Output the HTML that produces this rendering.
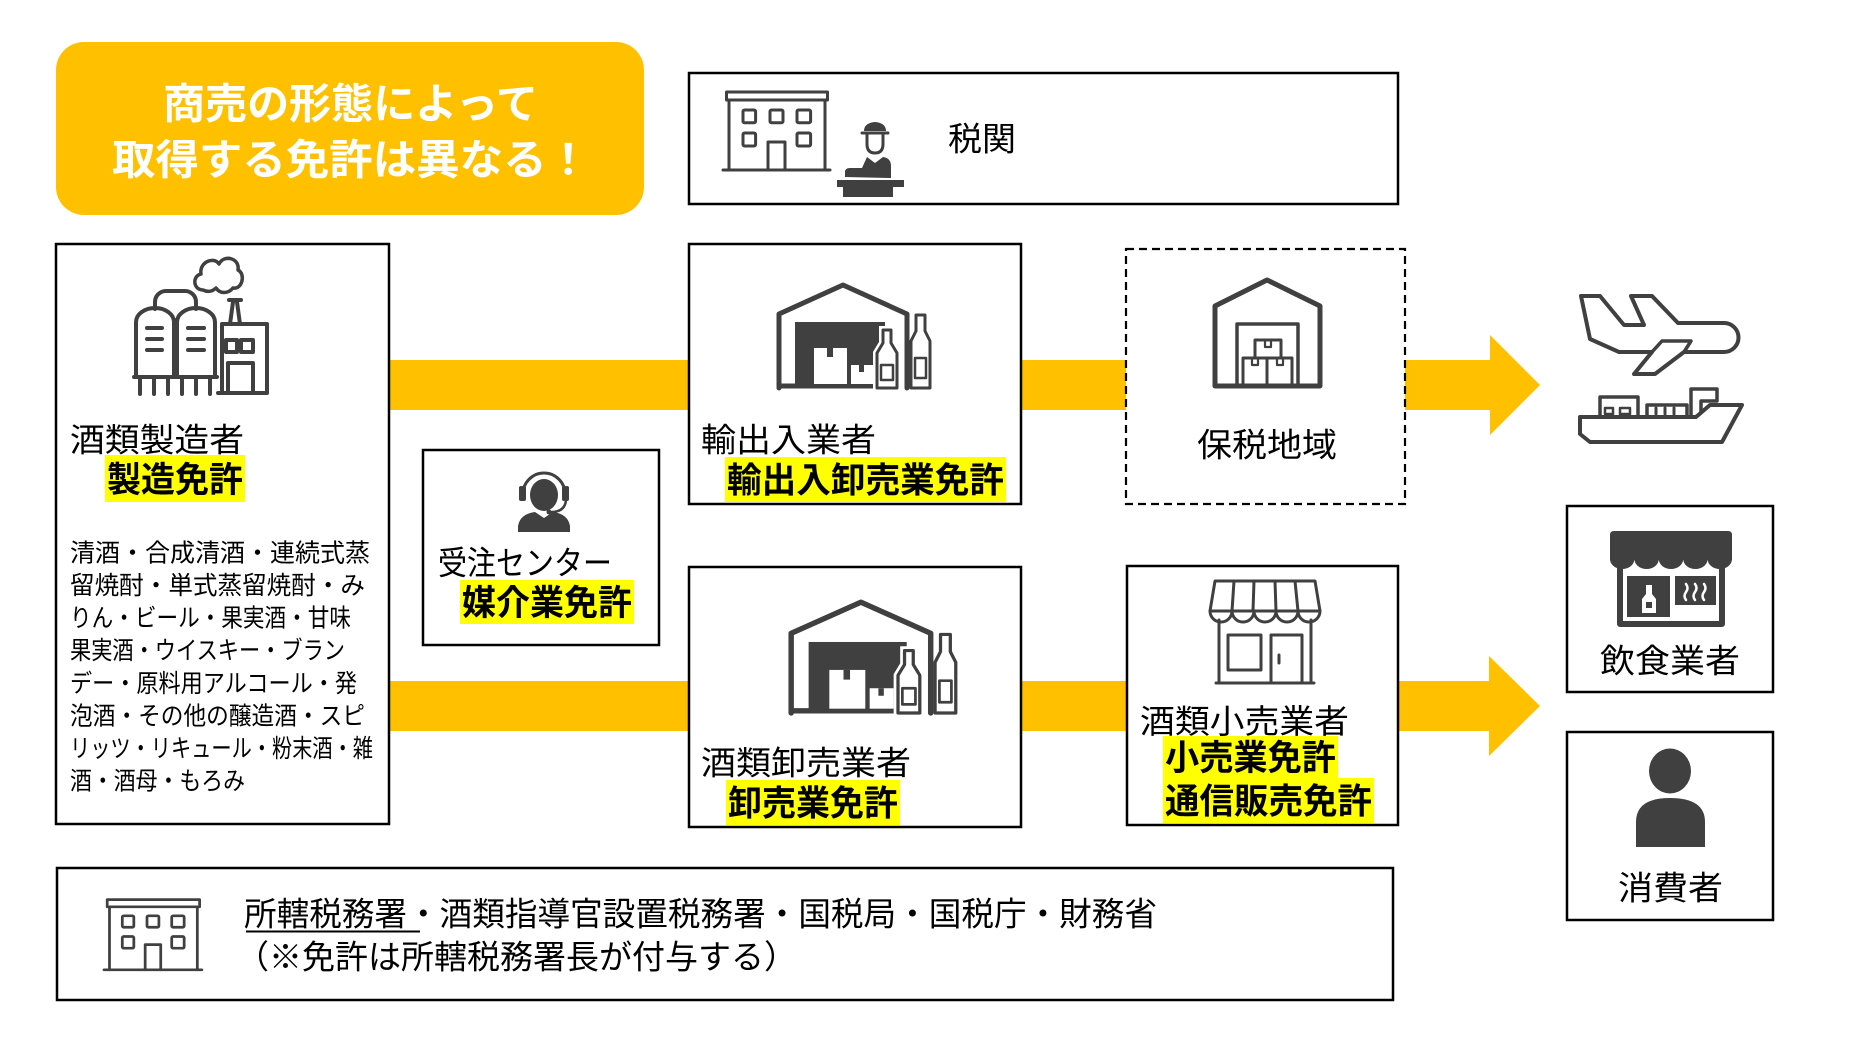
<!DOCTYPE html>
<html><head><meta charset="utf-8">
<style>
html,body{margin:0;padding:0;background:#fff;}
svg{display:block;}
text{font-family:"Liberation Sans","Noto Sans CJK JP",sans-serif;}
.lbl{font-size:33px;fill:#000;}
.lic{font-size:35px;font-weight:bold;fill:#000;}
.lst{font-size:25px;fill:#000;}
.ic{fill:none;stroke:#404040;stroke-linejoin:round;stroke-linecap:round;}
.fd{fill:#404040;}
</style></head><body>
<svg width="1860" height="1038" viewBox="0 0 1860 1038" xmlns="http://www.w3.org/2000/svg">
<defs>
  <g id="bld">
    <rect x="3.5" y="1" width="101" height="8" class="ic" stroke-width="3"/>
    <path d="M6,9 V79 M102,9 V79 M0,79 H107" class="ic" stroke-width="3"/>
    <rect x="20" y="19" width="12.6" height="12.7" rx="1.5" class="ic" stroke-width="3"/>
    <rect x="47" y="19" width="13" height="12.7" rx="1.5" class="ic" stroke-width="3"/>
    <rect x="74" y="19" width="13.6" height="12.7" rx="1.5" class="ic" stroke-width="3"/>
    <rect x="20" y="42" width="12.6" height="13" rx="1.5" class="ic" stroke-width="3"/>
    <rect x="74" y="42" width="13.6" height="13" rx="1.5" class="ic" stroke-width="3"/>
    <path d="M45,79 V51 H62 V79" class="ic" stroke-width="3"/>
  </g>
  <g id="wh">
    <path d="M2,105 V31 L66,2 L130,31 V105" class="ic" stroke-width="5"/>
    <rect x="18" y="39" width="90" height="66" class="fd"/>
    <path d="M2,103 H96" class="ic" stroke-width="5"/>
    <rect x="37" y="65" width="33" height="36" fill="#fff"/>
    <rect x="74" y="82" width="22" height="19" fill="#fff"/>
    <rect x="50" y="65" width="6" height="9" class="fd"/>
    <rect x="82" y="82" width="5" height="7" class="fd"/>
    <path d="M106,47 H114 V60 L120,70 V105 H100 V70 L106,60 Z" fill="#fff" stroke="#fff" stroke-width="8"/>
    <path d="M106,47 H114 V60 L120,70 V105 H100 V70 L106,60 Z" fill="#fff" stroke="#404040" stroke-width="3" stroke-linejoin="round"/>
    <rect x="104" y="82" width="12" height="15" class="ic" stroke-width="2.5"/>
    <path d="M139,32 H148 V48 L153,58 V105 H134 V58 L139,48 Z" fill="#fff" stroke="#404040" stroke-width="3" stroke-linejoin="round"/>
    <rect x="138" y="75" width="11" height="20" class="ic" stroke-width="2.5"/>
  </g>
</defs>

<!-- yellow arrows -->
<g fill="#FFC000">
  <rect x="388" y="360" width="302" height="50"/>
  <rect x="1020" y="360" width="107" height="50"/>
  <polygon points="1404,360 1490,360 1490,335 1540,385 1490,435 1490,410 1404,410"/>
  <rect x="388" y="681" width="302" height="50"/>
  <rect x="1020" y="681" width="108" height="50"/>
  <polygon points="1396,681 1489,681 1489,656 1540,706 1489,756 1489,731 1396,731"/>
</g>

<!-- title -->
<rect x="56" y="42" width="588" height="173" rx="28" fill="#FFC000"/>
<text x="163" y="118.5" font-size="42" font-weight="bold" fill="#fff" textLength="375" lengthAdjust="spacingAndGlyphs">商売の形態によって</text>
<text x="112" y="174.5" font-size="42" font-weight="bold" fill="#fff" textLength="478" lengthAdjust="spacingAndGlyphs">取得する免許は異なる！</text>

<!-- boxes -->
<g fill="#fff" stroke="#000" stroke-width="2.5">
  <rect x="689" y="73" width="709" height="131"/>
  <rect x="56" y="244" width="333" height="580"/>
  <rect x="689" y="244" width="332" height="260"/>
  <rect x="423" y="450" width="236" height="195"/>
  <rect x="689" y="567" width="332" height="260"/>
  <rect x="1127" y="566" width="271" height="259"/>
  <rect x="1567" y="506" width="206" height="186"/>
  <rect x="1567" y="732" width="206" height="188"/>
  <rect x="57" y="868" width="1336" height="132"/>
</g>
<rect x="1126" y="249" width="279" height="255" fill="#fff" stroke="#000" stroke-width="2.2" stroke-dasharray="8,5"/>

<!-- customs -->
<use href="#bld" transform="translate(723,91)"/>
<path d="M864,131 Q864,123 875,122 Q886,123 886,131 Z" class="fd"/>
<path d="M862,133 H888" class="ic" stroke-width="3"/>
<path d="M867,135 V144 Q867,153 875,153 Q883,153 883,144 V135" class="ic" stroke-width="3"/>
<path d="M845,177 V172 Q845,168 850,168 H862 L867,157 L875,163 L883,157 Q891,158 891,166 V178 Z" class="fd"/>
<rect x="837" y="180" width="67" height="7" class="fd"/>
<rect x="843" y="187" width="50" height="10" class="fd"/>
<text x="948" y="150.5" class="lbl" textLength="68" lengthAdjust="spacingAndGlyphs">税関</text>

<!-- factory -->
<g class="ic" stroke-width="4">
  <path d="M136,377 V322 A19,14 0 0 1 174,322 V377"/>
  <path d="M177,377 V322 A19,14 0 0 1 215,322 V377"/>
  <path d="M134,377 H217"/>
  <path d="M140,377 V394 M154,377 V394 M168,377 V394 M182,377 V394 M196,377 V394 M210,377 V394"/>
  <path d="M155,309 V302 A11,11 0 0 1 166,291 H185 A11,11 0 0 1 196,302 V309"/>
  <path d="M147,328 H162 M147,339 H162 M147,350 H162 M188,328 H204 M188,339 H204 M188,350 H204"/>
  <path d="M222,393 V324 H267 V393 M218,393 H267"/>
  <path d="M228,393 V363 H253 V393"/>
  <rect x="226" y="340" width="11" height="12"/>
  <rect x="241" y="340" width="12" height="12"/>
  <path d="M230,324 L233,302 M240,324 L237,302 M229,300 H241"/>
  <path d="M203,290 C193,290 192,276 201,274 C199,262 214,256 219,264 C224,254 240,258 238,270 C246,274 242,290 233,288 C228,294 220,294 216,288 C212,292 207,292 203,290 Z" stroke-width="3.5"/>
</g>
<text x="70" y="451.5" class="lbl" textLength="174" lengthAdjust="spacingAndGlyphs">酒類製造者</text>
<rect x="105" y="455" width="140" height="47" fill="#FFFF00"/>
<text x="107" y="492" class="lic" textLength="136" lengthAdjust="spacingAndGlyphs">製造免許</text>
<text x="70" y="561.5" class="lst" textLength="300" lengthAdjust="spacingAndGlyphs">清酒・合成清酒・連続式蒸</text>
<text x="70" y="594" class="lst" textLength="295" lengthAdjust="spacingAndGlyphs">留焼酎・単式蒸留焼酎・み</text>
<text x="70" y="626.6" class="lst" textLength="281" lengthAdjust="spacingAndGlyphs">りん・ビール・果実酒・甘味</text>
<text x="70" y="659" class="lst" textLength="275" lengthAdjust="spacingAndGlyphs">果実酒・ウイスキー・ブラン</text>
<text x="70" y="691.8" class="lst" textLength="287" lengthAdjust="spacingAndGlyphs">デー・原料用アルコール・発</text>
<text x="70" y="724.4" class="lst" textLength="295" lengthAdjust="spacingAndGlyphs">泡酒・その他の醸造酒・スピ</text>
<text x="70" y="757" class="lst" textLength="303" lengthAdjust="spacingAndGlyphs">リッツ・リキュール・粉末酒・雑</text>
<text x="70" y="789.5" class="lst" textLength="175" lengthAdjust="spacingAndGlyphs">酒・酒母・もろみ</text>

<!-- export -->
<use href="#wh" transform="translate(777,283)"/>
<text x="701" y="451.5" class="lbl" textLength="175" lengthAdjust="spacingAndGlyphs">輸出入業者</text>
<rect x="725" y="457" width="281" height="45" fill="#FFFF00"/>
<text x="727" y="492.5" class="lic" textLength="277" lengthAdjust="spacingAndGlyphs">輸出入卸売業免許</text>

<!-- bonded area -->
<path d="M1215,386 V306 L1267,280 L1320,306 V386 Z" class="ic" stroke-width="5"/>
<path d="M1237,386 V324 H1298 V386" class="ic" stroke-width="3.5"/>
<g class="ic" stroke-width="3">
  <rect x="1255" y="340" width="26" height="18"/>
  <rect x="1243" y="358" width="24" height="27"/>
  <rect x="1267" y="358" width="25" height="27"/>
  <path d="M1265,340 V347 H1271 V340 M1252,358 V365 H1258 V358 M1277,358 V365 H1283 V358" stroke-width="2.2"/>
</g>
<text x="1197" y="456.5" class="lbl" textLength="140" lengthAdjust="spacingAndGlyphs">保税地域</text>

<!-- plane / ship -->
<path d="M1581,296 H1600 L1624,325 H1644 L1631,296 H1652 L1678,323 H1724 A14.5,14.5 0 0 1 1724,352 H1684 L1655,374 H1634 L1652,352 H1619 L1590,339 Z" class="ic" stroke-width="4"/>
<path d="M1652,352 L1662,341 H1691 L1684,352" class="ic" stroke-width="3.5"/>
<path d="M1580,417 H1696 L1710,405 H1742 L1722,442 H1590 L1580,434 Z" class="ic" stroke-width="4"/>
<path d="M1691,416 V389 H1717 V401 H1701 V412" class="ic" stroke-width="3.5"/>
<rect x="1600" y="397" width="38" height="20" class="ic" stroke-width="3.5"/>
<rect x="1605" y="408" width="8" height="6" class="ic" stroke-width="2.5"/>
<rect x="1620" y="408" width="10" height="6" class="ic" stroke-width="2.5"/>
<rect x="1647" y="405" width="40" height="12" class="ic" stroke-width="3.5"/>
<path d="M1656,408 V414 M1665,408 V414 M1674,408 V414" class="ic" stroke-width="3"/>

<!-- order center -->
<path d="M523,494 A21,21 0 0 1 565,494" class="ic" stroke-width="3"/>
<ellipse cx="544" cy="495" rx="14" ry="16" class="fd"/>
<rect x="519" y="486" width="7" height="15" rx="2" class="fd"/>
<rect x="562" y="486" width="7" height="15" rx="2" class="fd"/>
<path d="M566,500 Q565,512 551,512" class="ic" stroke-width="2.5"/>
<circle cx="549" cy="512" r="2.5" class="fd"/>
<path d="M518,532 V526 Q520,514 535,512 L544,518 L553,512 Q568,514 570,526 V532 Z" class="fd"/>
<text x="438" y="574.5" class="lbl" textLength="174" lengthAdjust="spacingAndGlyphs">受注センター</text>
<rect x="460" y="580" width="174" height="44" fill="#FFFF00"/>
<text x="462" y="615" class="lic" textLength="170" lengthAdjust="spacingAndGlyphs">媒介業免許</text>

<!-- wholesale -->
<use href="#wh" transform="translate(789,600) scale(1.09,1.076)"/>
<text x="701" y="774.5" class="lbl" textLength="210" lengthAdjust="spacingAndGlyphs">酒類卸売業者</text>
<rect x="726" y="780" width="174" height="45" fill="#FFFF00"/>
<text x="728" y="815.5" class="lic" textLength="170" lengthAdjust="spacingAndGlyphs">卸売業免許</text>

<!-- retail shop -->
<g class="ic" stroke-width="3">
  <path d="M1215,581 H1315 L1320,611 H1210 Z"/>
  <path d="M1234,581 L1232,611 M1254,581 L1253,611 M1275,581 L1276,611 M1295,581 L1298,611"/>
  <path d="M1210,611 a11,11 0 0 0 22,0 a11,11 0 0 0 22,0 a11,11 0 0 0 22,0 a11,11 0 0 0 22,0 a11,11 0 0 0 22,0"/>
  <path d="M1219,620 V683 M1311,620 V683 M1216,683 H1314"/>
  <rect x="1228" y="635" width="33" height="35"/>
  <path d="M1271,683 V635 H1302 V683 M1279,655 V663"/>
</g>
<text x="1140" y="733" class="lbl" textLength="209" lengthAdjust="spacingAndGlyphs">酒類小売業者</text>
<rect x="1163" y="736" width="175" height="43" fill="#FFFF00"/>
<rect x="1163" y="778" width="211" height="45" fill="#FFFF00"/>
<text x="1165" y="770" class="lic" textLength="171" lengthAdjust="spacingAndGlyphs">小売業免許</text>
<text x="1165" y="813.5" class="lic" textLength="207" lengthAdjust="spacingAndGlyphs">通信販売免許</text>

<!-- restaurant -->
<path d="M1614,531 H1728 Q1732,531 1732,535 V560 H1610 V535 Q1610,531 1614,531 Z" class="fd"/>
<path d="M1610,559 a12.2,10 0 0 0 24.4,0 a12.2,10 0 0 0 24.4,0 a12.2,10 0 0 0 24.4,0 a12.2,10 0 0 0 24.4,0 a12.2,10 0 0 0 24.4,0 Z" class="fd"/>
<path d="M1620,566 V624 H1722 V566" class="ic" stroke-width="6"/>
<rect x="1627" y="576" width="43" height="41" class="fd"/>
<path d="M1646,585 H1652 V594 L1656,599 V613 H1642 V599 L1646,594 Z" fill="#fff"/>
<rect x="1646" y="602" width="6" height="6" class="fd"/>
<rect x="1675" y="576" width="41" height="29" class="fd"/>
<path d="M1686,600 q-3,-4 0,-8 q3,-4 0,-8 M1695,600 q-3,-4 0,-8 q3,-4 0,-8 M1704,600 q-3,-4 0,-8 q3,-4 0,-8" fill="none" stroke="#fff" stroke-width="2.5" stroke-linecap="round"/>
<text x="1600" y="672.5" class="lbl" textLength="140" lengthAdjust="spacingAndGlyphs">飲食業者</text>

<!-- consumer -->
<ellipse cx="1670" cy="771" rx="21" ry="22.5" class="fd"/>
<path d="M1636,847 V822 Q1636,798 1670,798 Q1705,798 1705,822 V847 Z" class="fd"/>
<text x="1618" y="899.5" class="lbl" textLength="105" lengthAdjust="spacingAndGlyphs">消費者</text>

<!-- bottom -->
<use href="#bld" transform="translate(104,898.7) scale(0.915,0.9)"/>
<text x="244" y="925.5" class="lbl" textLength="913" lengthAdjust="spacingAndGlyphs">所轄税務署・酒類指導官設置税務署・国税局・国税庁・財務省</text>
<path d="M246,931.5 H420" stroke="#000" stroke-width="2"/>
<text x="236" y="968.5" class="lbl" textLength="561" lengthAdjust="spacingAndGlyphs">（※免許は所轄税務署長が付与する）</text>
</svg>
</body></html>
